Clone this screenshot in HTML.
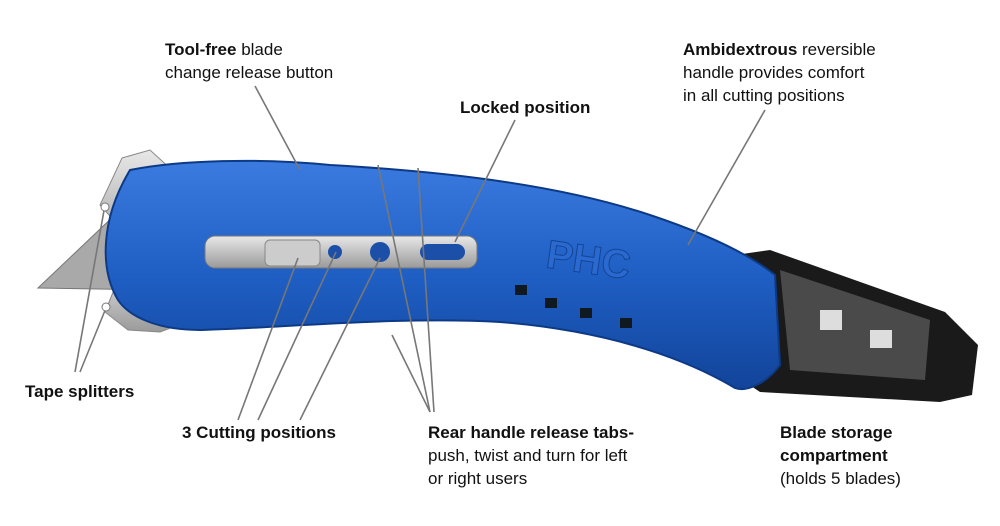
<!DOCTYPE html>
<html><head><meta charset="utf-8"><style>
html,body{margin:0;padding:0;background:#fff;}
#w{position:relative;width:1000px;height:526px;overflow:hidden;font-family:"Liberation Sans Narrow","Liberation Sans",sans-serif;color:#111;}
.t{position:absolute;font-size:17px;line-height:23px;white-space:nowrap;}
b{font-weight:bold;}
svg{position:absolute;left:0;top:0;}
</style></head><body><div id="w">
<svg width="1000" height="526" viewBox="0 0 1000 526">
<defs>
<linearGradient id="bl" x1="0" y1="0" x2="0" y2="1">
<stop offset="0" stop-color="#3b7be0"/><stop offset="0.5" stop-color="#1f5fc4"/><stop offset="1" stop-color="#12449a"/></linearGradient>
<linearGradient id="mt" x1="0" y1="0" x2="0" y2="1">
<stop offset="0" stop-color="#e8e8e8"/><stop offset="1" stop-color="#9a9a9a"/></linearGradient>
</defs>
<!-- blade -->
<polygon points="38,288 118,212 160,232 160,290" fill="#a9a9a9" stroke="#777"/>
<!-- metal guards -->
<polygon points="122,158 150,150 205,200 205,235 165,262 118,225 100,205" fill="url(#mt)" stroke="#888"/>
<polygon points="105,312 120,275 160,262 205,285 205,315 160,332 128,330" fill="url(#mt)" stroke="#888"/>
<!-- black compartment -->
<polygon points="735,255 770,250 945,312 978,345 972,395 940,402 760,392 742,380" fill="#1a1a1a"/>
<polygon points="780,270 930,320 925,380 790,370" fill="#4a4a4a"/>
<rect x="820" y="310" width="22" height="20" fill="#ddd"/><rect x="870" y="330" width="22" height="18" fill="#ddd"/>
<!-- blue body -->
<path d="M130,170 C180,160 260,158 330,165 C450,172 560,185 650,215 C710,235 750,255 775,275 L780,365 C765,385 745,392 735,388 C680,355 600,330 500,322 C400,316 280,328 200,330 C160,330 130,318 118,300 C100,270 100,220 130,170 Z" fill="url(#bl)" stroke="#0d3a86" stroke-width="2"/>
<!-- slider plate -->
<rect x="205" y="236" width="272" height="32" rx="10" fill="url(#mt)" stroke="#777"/>
<rect x="265" y="240" width="55" height="26" rx="5" fill="#ccc" stroke="#888"/>
<circle cx="335" cy="252" r="7" fill="#1c4fa8"/><circle cx="380" cy="252" r="10" fill="#1c4fa8"/><rect x="420" y="244" width="45" height="16" rx="8" fill="#1c4fa8"/>
<text x="545" y="275" font-family="Liberation Sans" font-weight="bold" font-size="40" fill="#2a6ad0" stroke="#144494" transform="rotate(8 600 270)">PHC</text>
<g fill="#101820"><rect x="515" y="285" width="12" height="10"/><rect x="545" y="298" width="12" height="10"/><rect x="580" y="308" width="12" height="10"/><rect x="620" y="318" width="12" height="10"/></g>
<!-- leader lines -->
<g stroke="#777" stroke-width="1.6" fill="none">
<line x1="255" y1="86" x2="300" y2="170"/>
<line x1="515" y1="120" x2="455" y2="242"/>
<line x1="765" y1="110" x2="688" y2="245"/>
<line x1="75" y1="372" x2="105" y2="205"/>
<line x1="80" y1="372" x2="106" y2="308"/>
<line x1="238" y1="420" x2="298" y2="258"/>
<line x1="258" y1="420" x2="336" y2="252"/>
<line x1="300" y1="420" x2="380" y2="258"/>
<line x1="430" y1="412" x2="378" y2="165"/>
<line x1="430" y1="412" x2="392" y2="335"/>
<line x1="434" y1="412" x2="418" y2="168"/>
</g>
<circle cx="105" cy="207" r="4" fill="#fff" stroke="#777"/>
<circle cx="106" cy="307" r="4" fill="#fff" stroke="#777"/>
</svg>
<div class="t" style="left:165px;top:38px;"><b>Tool-free</b> blade<br>change release button</div>
<div class="t" style="left:460px;top:96px;"><b>Locked position</b></div>
<div class="t" style="left:683px;top:38px;"><b>Ambidextrous</b> reversible<br>handle provides comfort<br>in all cutting positions</div>
<div class="t" style="left:25px;top:380px;"><b>Tape splitters</b></div>
<div class="t" style="left:182px;top:421px;"><b>3 Cutting positions</b></div>
<div class="t" style="left:428px;top:421px;"><b>Rear handle release tabs-</b><br>push, twist and turn for left<br>or right users</div>
<div class="t" style="left:780px;top:421px;"><b>Blade storage<br>compartment</b><br>(holds 5 blades)</div>
</div></body></html>
